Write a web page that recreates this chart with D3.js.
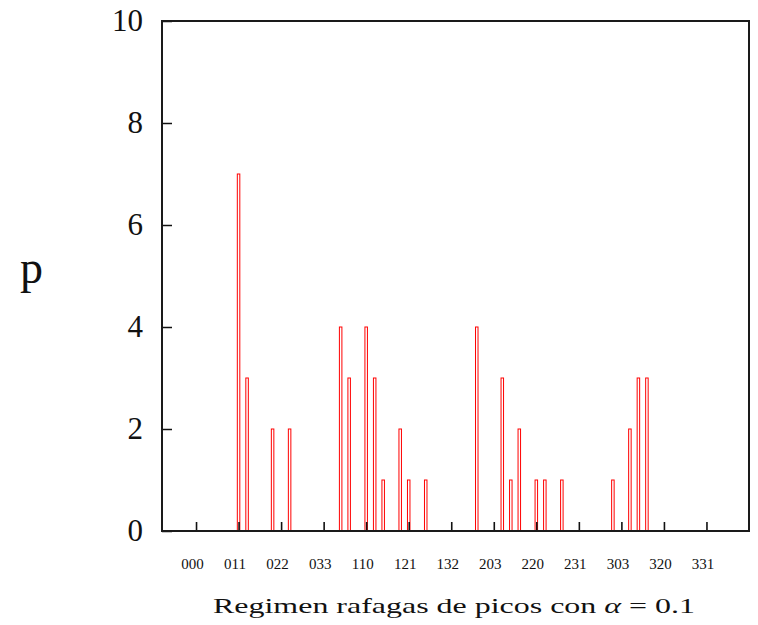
<!DOCTYPE html>
<html>
<head>
<meta charset="utf-8">
<script src="https://cdn.jsdelivr.net/npm/d3@7"></script>
<style>
  html, body { margin: 0; padding: 0; background: #fff; }
  svg { display: block; }
  text { font-family: "Liberation Serif", "DejaVu Serif", serif; fill: #111; }
</style>
</head>
<body>
<svg id="chart" width="758" height="625"></svg>
<script>
// ---- data ----
const categories = [
  "000","001","002","003","010","011","012","013","020","021","022","023","030","031","032","033",
  "100","101","102","103","110","111","112","113","120","121","122","123","130","131","132","133",
  "200","201","202","203","210","211","212","213","220","221","222","223","230","231","232","233",
  "300","301","302","303","310","311","312","313","320","321","322","323","330","331","332","333"
];
const values = [
  0,0,0,0,0,7,3,0,0,2,0,2,0,0,0,0,
  0,4,3,0,4,3,1,0,2,1,0,1,0,0,0,0,
  0,4,0,0,3,1,2,0,1,1,0,1,0,0,0,0,
  0,1,0,2,3,3,0,0,0,0,0,0,0,0,0,0
];
const xTickIndex = [0,5,10,15,20,25,30,35,40,45,50,55,60];
const xTickLabels = ["000","011","022","033","110","121","132","203","220","231","303","320","331"];
const yTicks = [0,2,4,6,8,10];
const xTitle = "Regimen rafagas de picos con ";
const yTitle = "p";

// ---- layout ----
const svg = d3.select("#chart");
const L = 162, R = 749, T = 21, B = 531;
const x = d3.scaleLinear().domain([-4, 65]).range([L, R]);
const y = d3.scaleLinear().domain([0, 10]).range([B, T]);

// bars
const barW = 2.5;
svg.append("g").selectAll("rect")
  .data(values.map((v, i) => ({i, v})).filter(d => d.v > 0))
  .join("rect")
  .attr("x", d => x(d.i) - barW / 2)
  .attr("y", d => y(d.v))
  .attr("width", barW)
  .attr("height", d => y(0) - y(d.v))
  .attr("fill", "none")
  .attr("stroke", "#ff0000")
  .attr("stroke-width", 1);

// y axis
const ya = d3.axisLeft(y).tickValues(yTicks).tickFormat(d3.format("d"))
  .tickSizeInner(-10).tickSizeOuter(0).tickPadding(19);
const gy = svg.append("g").attr("transform", `translate(${L},0)`).call(ya);
gy.select(".domain").remove();
gy.selectAll(".tick line").attr("stroke", "#111").attr("stroke-width", 1.5);
gy.selectAll(".tick text").attr("font-size", 31).attr("font-family", "Liberation Serif").attr("fill", "#111");

// x axis
const xa = d3.axisBottom(x).tickValues(xTickIndex).tickFormat((d, k) => xTickLabels[k])
  .tickSizeInner(-9).tickSizeOuter(0).tickPadding(27);
const gx = svg.append("g").attr("transform", `translate(0,${B})`).call(xa);
gx.select(".domain").remove();
gx.selectAll(".tick line").attr("stroke", "#111").attr("stroke-width", 1.6);
gx.selectAll(".tick text").attr("font-size", 15).attr("font-family", "Liberation Serif")
  .attr("fill", "#111").attr("dx", -4);

// frame
svg.append("rect").attr("x", L).attr("y", T).attr("width", R - L).attr("height", B - T)
  .attr("fill", "none").attr("stroke", "#1a1a1a").attr("stroke-width", 2);

// x title
const t = svg.append("text").attr("x", 213).attr("y", 613)
  .attr("font-size", 22).attr("textLength", 482).attr("lengthAdjust", "spacingAndGlyphs");
t.append("tspan").text(xTitle);
t.append("tspan").attr("font-style", "italic").text("α");
t.append("tspan").text(" = 0.1");

// y title
svg.append("text").attr("x", 20).attr("y", 283).attr("font-size", 46).text(yTitle);
</script>
</body>
</html>
